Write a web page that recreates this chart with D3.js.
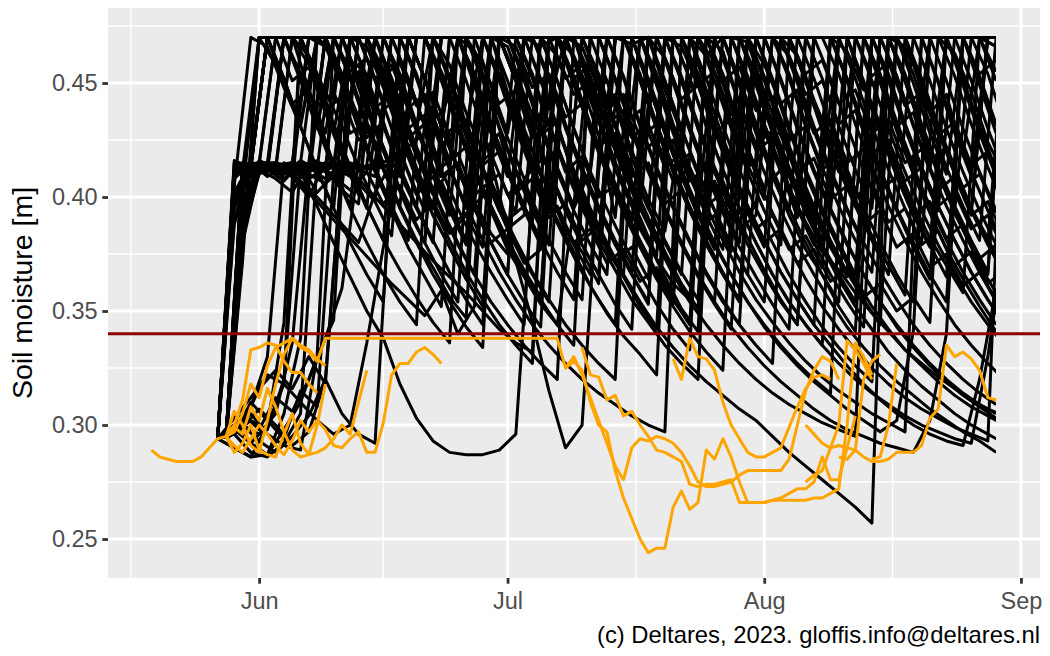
<!DOCTYPE html>
<html>
<head>
<meta charset="utf-8">
<script src="https://cdn.jsdelivr.net/npm/d3@7"></script>
<style>
body { margin: 0; background: #fff; }
svg { display: block; }
text { font-family: "Liberation Sans", Arial, Helvetica, sans-serif; }
</style>
</head>
<body>
<div id="chart"></div>
<script>
// days are counted from 1 June 2023; soil moisture values in 1/1000 m
// black ensemble members: one value every 2 days
var blackStep = 2;
var blackStart = [-5,-4,-5,-4,-5,-4,-5,-4,-5,-4,-5,-4,-5,-4,-5,-4,-5,-4,-5,-4,-5,-4,-5,-4,
                  -5,-4,-5,-4,-5,-4,-5,-4,-5,-4,-5,-4,-5,-4,-5,-4,-5,-4,-5,-4,-5,-4,-5,-4,
                  -5,-4,-5,-4,-5,-4,-5,-4];
var blackRuns = [
  [294,405,470,466,448,431,470,463, 444,426,433,410,395,470,458,437, 420,428,402,389,470,470,452,436, 441,417,399,385,430,470,455,433, 414,399,470,462,440,428,409,396, 470,470,458,437,445,418,470,466],
  [294,412,414,410,415,408,412,403, 397,470,470,452,431,437,412,398, 384,375,470,466,470,449,430,414, 398,386,373,362,355,470,464,441, 423,429,404,389,376,368,358,349, 341,333,327,321,316,311,307,304],
  [294,298,305,296,291,289,330,470, 470,470,456,436,418,401,412,470, 470,452,438,416,403,385,376,362, 470,467,470,447,428,470,459,440, 421,404,412,391,470,470,470,449, 432,414,397,382,370,358,470,466],
  [294,390,415,470,470,462,446,431, 413,398,383,470,470,455,437,416, 470,466,445,427,433,408,392,377, 365,352,342,470,470,470,454,431, 412,470,470,451,434,414,399,383, 370,357,470,470,463,446,424,410],
  [294,412,415,409,413,411,396,380, 365,350,338,318,303,293,288,287, 287,289,296,402,470,470,452,433, 412,396,380,365,351,341,470,470, 468,446,427,409,392,378,365,470, 470,453,431,412,470,470,449,428],
  [294,405,416,413,415,411,470,470, 448,429,411,394,380,470,470,464, 445,426,408,416,470,470,447,425, 406,391,374,470,470,462,470,449, 428,409,392,377,366,352,341,470, 470,466,452,431,413,395,382,366],
  [294,300,292,287,305,338,470,470, 452,431,412,396,381,369,356,347, 470,470,453,432,441,470,466,447, 425,407,391,376,362,351,470,470, 451,432,413,396,470,470,470,449, 428,409,392,378,470,470,452,431],
  [294,372,470,470,470,447,425,404, 470,470,449,430,436,409,470,470, 470,446,424,405,390,376,361,349, 339,331,322,470,470,447,426,407, 470,470,470,451,429,412,396,381, 366,470,470,450,428,409,470,470],
  [294,408,415,414,411,415,413,409, 412,404,396,388,380,372,365,358, 350,342,336,332,470,470,449,427, 391,470,470,470,453,432,413,397, 382,368,355,344,470,470,451,429, 410,394,378,364,470,470,470,455],
  [294,299,307,300,291,297,320,305, 296,292,415,470,470,452,431,412, 396,380,470,470,451,430,411,395, 380,366,353,342,333,470,470,470, 449,428,409,393,378,364,352,342, 332,324,317,311,305,300,296,292],
  [294,395,414,470,451,432,470,470, 470,466,448,427,408,392,378,364, 352,470,470,453,432,413,398,381, 368,355,345,335,327,320,470,470, 451,429,411,395,379,470,470,470, 454,433,414,470,470,449,428,409],
  [294,385,413,415,409,400,415,412, 406,398,470,470,470,452,430,411, 394,377,365,353,344,395,412,470, 470,470,449,428,409,392,377,470, 470,450,429,410,393,378,364,352, 342,333,326,319,313,308,304,300],
  [294,296,288,286,292,305,415,414, 470,470,451,430,412,395,470,470, 452,431,412,396,381,367,355,470, 470,470,449,428,409,392,470,470, 453,432,413,395,380,366,354,343, 470,470,450,428,410,470,470,470],
  [294,415,414,413,470,470,470,452, 430,411,394,378,365,352,470,470, 449,428,470,470,470,451,430,411, 394,379,365,353,470,470,450,429, 410,393,378,364,352,342,333,325, 318,312,307,303,299,296,293,470],
  [294,410,415,411,470,470,449,428, 470,470,470,452,431,470,470,451, 430,401,372,345,315,290,300,411, 470,470,449,428,409,392,377,470, 470,470,451,430,411,394,470,470, 450,429,410,393,377,364,352,341],
  [294,380,412,408,402,415,412,416, 470,470,452,431,413,470,470,449, 428,409,470,470,470,450,429,410, 393,378,364,352,341,332,324,470, 470,452,431,412,395,380,366,470, 470,451,429,410,393,378,364,352],
  [294,303,312,322,318,310,330,346, 470,470,449,428,409,392,378,364, 470,470,451,430,411,394,379,366, 353,342,470,470,470,450,429,410, 393,378,470,470,452,431,412,395, 380,366,354,470,470,470,453,432],
  [294,415,412,415,410,404,396,388, 380,402,415,470,470,452,431,412, 396,381,368,356,470,470,451,430, 411,394,470,470,470,452,431,412, 395,380,366,354,343,334,326,319, 470,470,450,429,410,393,470,470],
  [294,398,415,470,470,470,452,431, 413,396,381,368,356,345,336,470, 470,470,452,431,412,395,470,470, 451,430,411,394,379,365,353,342, 470,470,470,450,429,410,394,379, 470,470,454,432,413,396,381,470],
  [294,406,414,411,415,413,408,415, 412,409,470,470,452,431,412,396, 470,470,470,451,430,411,394,379, 366,470,470,450,429,410,393,378, 365,353,342,470,470,454,432,413, 396,381,367,355,344,335,327,320],
  [294,290,286,287,298,310,302,296, 300,336,378,415,470,470,452,431, 412,470,470,470,451,430,411,394, 379,366,353,470,470,454,432,413, 396,381,367,355,344,470,470,451, 430,411,394,379,365,470,470,470],
  [294,392,415,412,470,458,437,418, 401,470,470,470,452,431,412,395, 380,366,354,343,470,470,470,451, 430,411,470,470,452,431,412,395, 380,366,354,344,335,327,320,314, 309,304,300,297,294,292,330,380],
  [294,410,413,470,452,431,412,395, 380,366,354,470,470,470,453,432, 413,396,381,367,355,344,335,327, 320,470,470,470,451,430,411,394, 470,470,452,431,412,395,380,366, 354,343,334,326,319,313,308,303],
  [294,300,316,324,316,330,318,415, 414,412,415,470,452,431,412,395, 380,366,470,470,470,453,432,413, 396,381,367,355,344,470,470,451, 430,411,394,470,470,470,452,431, 412,395,380,470,470,451,430,411],
  [294,402,415,413,410,416,412,470, 470,453,432,413,396,381,367,355, 344,470,470,454,432,413,396,381, 470,470,470,451,430,411,394,379, 366,470,470,452,431,412,395,380, 367,355,344,335,327,320,314,309],
  [294,375,470,470,470,470,470,452, 431,412,395,470,470,451,430,411, 394,379,366,354,470,470,453,432, 413,396,381,367,470,470,470,452, 431,412,395,380,366,354,470,470, 470,454,432,413,396,381,367,470],
  [294,412,415,412,407,415,411,413, 409,414,470,470,452,431,412,395, 470,470,451,430,411,394,379,366, 470,470,452,431,412,395,380,366, 354,343,334,326,319,313,307,302, 297,302,341,470,470,452,431,412],
  [294,396,413,415,411,407,470,470, 452,431,412,395,380,366,354,470, 470,470,454,432,413,396,470,470, 470,451,430,411,394,379,366,354, 470,470,452,431,412,470,470,470, 453,432,413,396,381,367,355,344],
  [294,298,292,300,318,470,470,470, 452,431,412,395,380,366,354,343, 334,470,470,470,453,432,413,396, 381,367,470,470,451,430,411,394, 379,366,354,344,470,470,452,431, 412,395,470,470,470,451,430,411],
  [294,408,415,415,413,410,406,412, 415,470,452,431,412,395,380,366, 354,344,335,327,320,470,470,470, 453,432,413,396,381,367,355,344, 335,327,470,470,452,431,412,395, 470,470,451,430,411,394,379,366],
  [294,400,414,470,470,452,431,470, 470,452,431,412,395,380,470,470, 470,451,430,411,394,470,470,452, 431,412,395,380,366,470,470,451, 430,411,394,379,366,354,343,334, 326,319,313,307,302,297,293,288],
  [294,300,293,288,295,304,320,415, 470,470,451,430,411,394,379,366, 470,470,470,452,431,412,395,380, 366,354,343,334,326,319,313,307, 302,295,288,282,276,270,264,257, 470,470,451,430,411,394,470,470],
  [294,414,411,415,470,470,454,432, 413,396,381,470,470,470,451,430, 411,394,470,470,452,431,412,395, 380,366,354,470,470,453,432,413, 396,381,367,355,344,335,326,318, 311,305,300,296,293,291,320,360],
  [294,305,298,312,306,320,338,360, 415,470,470,452,431,412,395,380, 367,355,344,470,470,451,430,411, 470,470,470,452,431,412,395,380, 470,470,454,432,413,396,381,367, 470,470,470,451,430,411,394,379],
  [294,390,415,470,470,452,431,412, 395,380,366,354,344,470,470,470, 451,430,411,394,379,470,470,454, 432,413,396,381,367,355,470,470, 470,451,430,411,394,379,366,470, 470,453,432,413,396,381,367,355],
  [294,405,413,415,410,402,394,386, 378,370,362,355,348,359,340,352, 470,470,451,430,411,394,379,366, 470,470,452,431,412,395,470,470, 451,430,411,394,379,366,354,470, 470,470,452,431,412,395,380,470],
  [294,415,413,470,470,451,430,470, 470,470,453,432,413,396,381,367, 355,344,335,327,470,470,470,452, 431,412,395,470,470,454,432,413, 470,470,451,430,411,394,379,366, 354,344,335,327,320,314,309,305],
  [294,384,410,414,415,408,413,470, 470,451,430,411,394,470,470,454, 432,413,396,381,367,355,470,470, 452,431,412,395,380,366,354,344, 470,470,470,453,432,413,396,470, 470,451,430,411,394,379,366,470],
  [294,411,415,413,470,470,452,431, 412,395,470,470,454,432,413,396, 381,367,355,344,335,327,320,314, 309,304,300,297,470,470,451,430, 411,394,379,470,470,470,452,431, 412,395,380,366,354,470,470,470],
  [294,398,415,412,409,470,470,451, 430,470,470,470,452,431,412,395, 380,366,470,470,451,430,411,470, 470,470,454,432,413,396,381,367, 355,345,336,328,321,315,310,305, 301,297,470,470,453,432,413,396],
  [294,290,286,300,345,470,470,470, 454,432,413,396,470,470,451,430, 411,394,379,366,354,470,470,470, 452,431,412,395,380,366,354,470, 470,453,432,413,396,381,367,355, 344,470,470,470,451,430,411,394],
  [294,414,415,413,415,411,415,414, 412,415,470,470,452,431,470,470, 470,451,430,411,394,379,366,470, 470,454,432,413,396,381,367,355, 470,470,470,451,430,411,470,470, 454,432,413,396,381,367,355,344],
  [294,402,413,470,452,431,412,395, 470,470,470,454,432,413,396,381, 470,470,451,430,411,394,470,470, 452,431,412,395,380,366,354,343, 334,326,319,313,307,302,298,295, 292,290,288,302,340,470,470,451],
  [294,395,414,470,470,470,470,454, 432,413,396,381,470,470,470,451, 430,411,394,379,470,470,452,431, 412,395,380,366,354,344,335,327, 320,314,309,305,301,298,295,470, 470,451,430,411,394,470,470,470],
  [294,296,310,302,294,315,308,410, 415,412,414,409,470,470,452,431, 470,454,432,413,396,381,367,355, 344,470,470,451,430,411,394,379, 366,354,470,470,470,452,431,412, 395,470,470,451,430,411,394,379],
  [294,408,412,415,410,413,470,470, 452,431,412,395,380,470,470,454, 432,413,396,381,470,470,451,430, 411,470,470,470,452,431,412,395, 380,366,354,344,335,470,470,451, 430,411,394,379,366,354,344,335],
  [294,416,413,470,470,454,432,413, 396,470,470,451,430,411,394,379, 470,470,470,452,431,412,395,380, 470,470,451,430,411,394,379,366, 354,344,335,327,320,314,470,470, 453,432,413,396,381,367,355,344],
  [294,300,296,305,336,415,470,470, 452,431,412,470,470,454,432,413, 396,381,367,355,344,335,470,470, 470,451,430,411,394,379,470,470, 454,432,413,396,381,470,470,470, 451,430,411,394,470,470,454,432],
  [294,410,415,412,470,452,440,446, 428,433,415,420,401,409,392,470, 458,441,447,426,432,411,418,400, 405,389,470,461,443,449,428,434, 413,420,401,407,390,470,464,447, 452,431,437,416,422,404,410,393],
  [294,396,414,411,415,470,466,449, 455,436,441,422,428,409,415,397, 403,386,392,470,470,452,458,439, 445,426,432,413,419,401,407,390, 396,470,462,445,451,432,438,419, 425,407,413,396,402,386,392,376],
  [294,300,308,330,415,412,416,409, 403,411,397,405,390,398,384,392, 378,470,466,448,454,435,441,422, 428,409,415,397,403,386,392,376, 470,458,441,447,428,434,415,421, 403,409,392,398,382,388,373,379],
  [294,402,470,470,451,457,438,444, 425,431,413,419,401,407,390,396, 380,386,371,377,470,462,445,451, 432,438,419,425,407,413,396,402, 386,392,377,383,369,470,470,453, 459,440,446,427,433,414,420,402],
  [294,388,413,415,408,414,402,410, 470,470,453,459,440,446,427,433, 414,420,402,408,391,397,381,387, 372,378,364,470,466,449,455,436, 442,423,429,411,417,399,405,388, 394,378,384,369,375,361,367,354],
  [294,412,470,458,441,447,428,470, 470,452,458,439,445,426,432,413, 419,401,407,390,396,380,386,371, 377,363,369,356,470,470,451,457, 438,444,425,431,412,418,400,406, 389,395,379,385,370,376,362,368],
  [294,296,302,298,320,415,470,470, 455,461,442,448,429,435,416,422, 404,410,393,470,470,452,458,439, 445,426,432,413,419,401,407,390, 396,380,386,371,377,363,369,356, 362,350,356,345,470,470,454,460],
  [294,405,415,410,414,470,470,452, 458,439,445,426,432,413,419,401, 407,390,396,470,462,445,451,432, 438,419,425,407,413,396,402,386, 392,470,470,454,460,441,447,428, 434,415,421,403,409,392,398,382]
];
var blackLastDay = 89;

// orange members: one value per day
var orangeStart = [-13, -4, -4, -4, -4, -4, -4, 37, 50, 39, 66, 66, 70, 74];
var orangeRuns = [
  [289,286,285,284,284,284,286,290,294,295],
  [295,297,305,318,312,326,334,336,338,334,332,328,338,
   338,338,338,338,338,338,338,338,338,338,338,338,338,338,338,338,338,338,338,338,338,338,338,338,338,338,338,338,
   325,328,324,310,300,297,280,268,259,250,244,246,246,264,271,263,266,289,285,294,286,275,266,266,266,267,267,267,267,267,268,268,270,272,300,336,330,322],
  [295,291,288,294,300,296,291,287,293,302,297,302,298,291,290,294,297,288,288,301,322,327,327,332,334,331,327],
  [295,300,311,333,334,336,335,328,323,323,318,314],
  [295,306,300,291,288,302,318,331,338,335,333,329,326],
  [295,288,292,300,289,287,286,296,305,292,287,288,290,294,300,296,310,324],
  [295,299,296,308,302,316,308,297,289,286,287,300,318],
  [325,330,322,312,302,292,282,276,290,294,293,295,294,292,288,282,275,273,273,274,275,278,280,280,280,280,280,285,300,315,324,330,328,320],
  [329,320,338,330,329,324,310,300,294,288,286,286,288,290,299,308,316,321,322,320],
  [334,322,321,311,313,304,306,300,295,289,288,286,284,274,273,274,274,275,276,266,266,266,266,267,268,270,272,272,275,286,276,276,290,304],
  [300,296,292,290,291,290,289,286,284,284,285,288,288,288,291,303,307,335,330,332,329,324,312,311],
  [275,278,280,290,300,337,333,327,320],
  [286,285,289,320,328,331],
  [285,286,300,327]
];

var threshold = 0.34;
var yTicks = [0.25, 0.30, 0.35, 0.40, 0.45];
var yMinor = [0.275, 0.325, 0.375, 0.425, 0.475];
var monthStarts = ["2023-05-01", "2023-06-01", "2023-07-01", "2023-08-01", "2023-09-01", "2023-10-01"];
var yTitle = "Soil moisture [m]";
var caption = "(c) Deltares, 2023. gloffis.info@deltares.nl";

var W = 1050, H = 656;
var panelL = 108, panelR = 1040, panelT = 8, panelB = 578;

var jun1 = Date.UTC(2023, 5, 1);
function dayDate(d) { return new Date(jun1 + d * 864e5); }

var x = d3.scaleUtc().domain([dayDate(-18.25), dayDate(94.3)]).range([panelL, panelR]);
var y = d3.scaleLinear().domain([0.2329, 0.4829]).range([panelB, panelT]);

var svg = d3.select("#chart").append("svg")
    .attr("width", W)
    .attr("height", H);

svg.append("rect")
    .attr("x", panelL).attr("y", panelT)
    .attr("width", panelR - panelL).attr("height", panelB - panelT)
    .attr("fill", "#EBEBEB");

// grid
var months = monthStarts.map(function (s) { return new Date(s + "T00:00:00Z"); });
var xMajor = months.filter(function (d) { return x(d) >= panelL && x(d) <= panelR; });
var xMinor = [];
for (var i = 0; i < months.length - 1; i++) {
    var mid = new Date((months[i].getTime() + months[i + 1].getTime()) / 2);
    if (x(mid) >= panelL && x(mid) <= panelR) xMinor.push(mid);
}

var grid = svg.append("g");
grid.selectAll(".ymin").data(yMinor).enter().append("line")
    .attr("x1", panelL).attr("x2", panelR)
    .attr("y1", function (d) { return y(d); }).attr("y2", function (d) { return y(d); })
    .attr("stroke", "#fff").attr("stroke-width", 1.4);
grid.selectAll(".xmin").data(xMinor).enter().append("line")
    .attr("y1", panelT).attr("y2", panelB)
    .attr("x1", function (d) { return x(d); }).attr("x2", function (d) { return x(d); })
    .attr("stroke", "#fff").attr("stroke-width", 1.4);
grid.selectAll(".ymaj").data(yTicks).enter().append("line")
    .attr("x1", panelL).attr("x2", panelR)
    .attr("y1", function (d) { return y(d); }).attr("y2", function (d) { return y(d); })
    .attr("stroke", "#fff").attr("stroke-width", 2.8);
grid.selectAll(".xmaj").data(xMajor).enter().append("line")
    .attr("y1", panelT).attr("y2", panelB)
    .attr("x1", function (d) { return x(d); }).attr("x2", function (d) { return x(d); })
    .attr("stroke", "#fff").attr("stroke-width", 2.8);

// series
function toPoints(start, step, vals) {
    return vals.map(function (v, k) { return { d: start + k * step, v: v / 1000 }; });
}
var line = d3.line()
    .x(function (p) { return x(dayDate(p.d)); })
    .y(function (p) { return y(p.v); });

svg.append("clipPath").attr("id", "runclip")
    .append("rect")
    .attr("x", panelL).attr("y", panelT)
    .attr("width", x(dayDate(blackLastDay)) - panelL)
    .attr("height", panelB - panelT);

svg.append("g").attr("clip-path", "url(#runclip)")
    .selectAll("path")
    .data(blackRuns.map(function (r, k) { return toPoints(blackStart[k], blackStep, r); }))
    .enter().append("path")
    .attr("d", line)
    .attr("fill", "none")
    .attr("stroke", "#000")
    .attr("stroke-width", 3)
    .attr("stroke-linejoin", "round");

svg.append("g")
    .selectAll("path")
    .data(orangeRuns.map(function (r, k) { return toPoints(orangeStart[k], 1, r); }))
    .enter().append("path")
    .attr("d", line)
    .attr("fill", "none")
    .attr("stroke", "#FFA500")
    .attr("stroke-width", 3)
    .attr("stroke-linejoin", "round");

svg.append("line")
    .attr("x1", panelL).attr("x2", panelR)
    .attr("y1", y(threshold)).attr("y2", y(threshold))
    .attr("stroke", "#8B0000")
    .attr("stroke-width", 2.9);

// axes
var yAxis = svg.append("g")
    .attr("transform", "translate(" + panelL + ",0)")
    .call(d3.axisLeft(y).tickValues(yTicks).tickFormat(d3.format(".2f")).tickSize(5.7).tickPadding(4.6));
var xAxis = svg.append("g")
    .attr("transform", "translate(0," + panelB + ")")
    .call(d3.axisBottom(x).tickValues(xMajor).tickFormat(d3.utcFormat("%b")).tickSize(5.7).tickPadding(4.6));

[yAxis, xAxis].forEach(function (a) {
    a.select(".domain").remove();
    a.selectAll(".tick line").attr("stroke", "#333333").attr("stroke-width", 2.8);
    a.selectAll(".tick text").attr("fill", "#4D4D4D").style("font-size", "23.5px")
        .style("font-family", "'Liberation Sans', Arial, sans-serif");
});
xAxis.selectAll(".tick text").attr("dy", "0.9em");

svg.append("text")
    .attr("transform", "translate(32," + ((panelT + panelB) / 2) + ") rotate(-90)")
    .attr("text-anchor", "middle")
    .style("font-size", "28.5px")
    .attr("fill", "#000")
    .text(yTitle);

svg.append("text")
    .attr("x", panelR).attr("y", 643)
    .attr("text-anchor", "end")
    .style("font-size", "23.8px")
    .attr("fill", "#000")
    .text(caption);
</script>
</body>
</html>
